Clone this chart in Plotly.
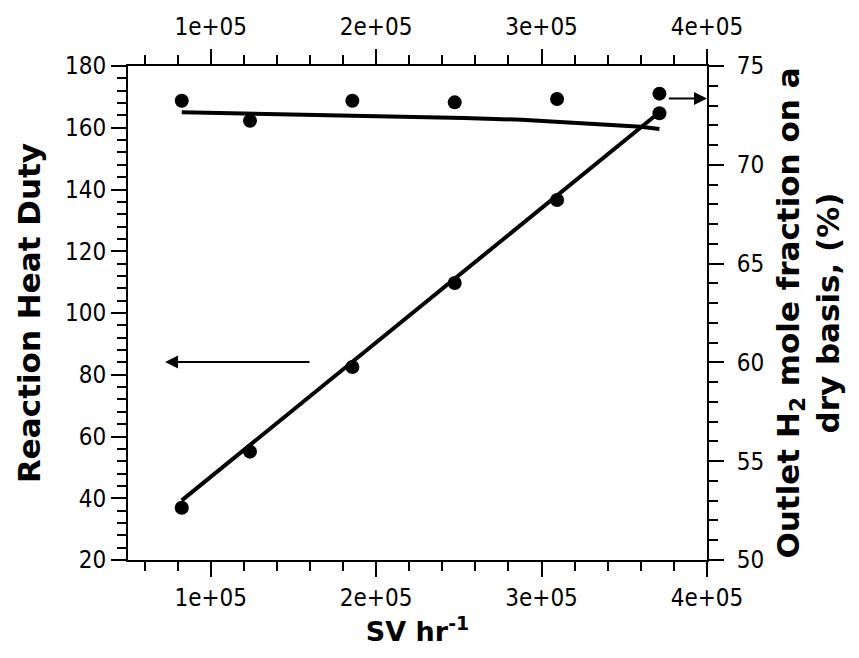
import plotly.graph_objects as go

# ---- data ----
sv = [82500, 123750, 185625, 247500, 309375, 371250]
heat_duty = [36.9, 55.1, 82.5, 109.7, 136.6, 164.7]
h2_frac = [73.24, 72.23, 73.24, 73.16, 73.33, 73.6]

heat_fit_x = [82500, 371250]
heat_fit_y = [39.3, 165.0]

h2_fit_x = [82500, 160000, 216000, 253000, 288000, 326000, 341000, 360000, 371250]
h2_fit_y = [72.66, 72.55, 72.45, 72.37, 72.28, 72.12, 72.02, 71.93, 71.81]

x_ticks = [100000, 200000, 300000, 400000]
x_ticklabels = ["1e+05", "2e+05", "3e+05", "4e+05"]

TICKFONT = "DejaVu Sans Condensed, DejaVu Sans, sans-serif"
TITLEFONT = "DejaVu Sans, sans-serif"
BLACK = "black"

fig = go.Figure()

fig.add_trace(go.Scatter(x=heat_fit_x, y=heat_fit_y, mode="lines",
                         line=dict(color=BLACK, width=4), xaxis="x", yaxis="y",
                         showlegend=False))
fig.add_trace(go.Scatter(x=sv, y=heat_duty, mode="markers",
                         marker=dict(color=BLACK, size=14), xaxis="x", yaxis="y",
                         showlegend=False))
fig.add_trace(go.Scatter(x=h2_fit_x, y=h2_fit_y, mode="lines",
                         line=dict(color=BLACK, width=4), xaxis="x", yaxis="y2",
                         showlegend=False))
fig.add_trace(go.Scatter(x=sv, y=h2_frac, mode="markers",
                         marker=dict(color=BLACK, size=14), xaxis="x", yaxis="y2",
                         showlegend=False))
# dummy trace to activate top axis
fig.add_trace(go.Scatter(x=[None], y=[None], xaxis="x2", yaxis="y", showlegend=False))

tickfont = dict(family=TICKFONT, size=24, color=BLACK)
titlefont = dict(family=TITLEFONT, size=31, color=BLACK, weight="bold")

common_x = dict(range=[50000, 400000], tickvals=x_ticks, ticktext=x_ticklabels,
                ticks="outside", ticklen=15, tickwidth=2, tickcolor=BLACK,
                showline=True, linecolor=BLACK, linewidth=2, showgrid=False,
                zeroline=False, tickfont=tickfont,
                minor=dict(dtick=20000, tick0=0, ticks="outside", ticklen=9,
                           tickwidth=2, tickcolor=BLACK, showgrid=False))

fig.update_layout(
    width=859, height=658,
    margin=dict(l=128, r=152, t=66, b=98),
    paper_bgcolor="white", plot_bgcolor="white",
    xaxis=dict(**common_x, side="bottom",
               title=dict(text="SV hr<sup>-1</sup>",
                          font=dict(family=TITLEFONT, size=27, color=BLACK, weight="bold"),
                          standoff=6)),
    xaxis2=dict(**common_x, side="top", overlaying="x", matches="x",
                ticklabelstandoff=4),
    yaxis=dict(range=[20, 180], dtick=20, tick0=20, ticks="outside", ticklen=15,
               tickwidth=2, tickcolor=BLACK, showline=True, linecolor=BLACK,
               linewidth=2, showgrid=False, zeroline=False, tickfont=tickfont,
               minor=dict(dtick=4, ticks="outside", ticklen=9, tickwidth=2,
                          tickcolor=BLACK, showgrid=False),
               title=dict(text="Reaction Heat Duty", font=titlefont, standoff=15)),
    yaxis2=dict(range=[50, 75], dtick=5, tick0=50, ticks="outside", ticklen=15,
                tickwidth=2, tickcolor=BLACK, showline=True, linecolor=BLACK,
                linewidth=2, showgrid=False, zeroline=False, tickfont=tickfont,
                side="right", overlaying="y", ticklabelstandoff=8,
                minor=dict(dtick=1, ticks="outside", ticklen=9, tickwidth=2,
                           tickcolor=BLACK, showgrid=False),
                title=dict(text="Outlet H<sub>2</sub> mole fraction on a<br>dry basis, (%)",
                           font=titlefont, standoff=14)),
    annotations=[
        dict(x=72400, y=84.1, ax=160600, ay=84.1, xref="x", yref="y",
             axref="x", ayref="y", showarrow=True, arrowhead=2, arrowsize=1.3,
             arrowwidth=2, arrowcolor=BLACK, text=""),
        dict(x=400000, y=169.5, ax=376000, ay=169.5, xref="x", yref="y",
             axref="x", ayref="y", showarrow=True, arrowhead=2, arrowsize=1.3,
             arrowwidth=2, arrowcolor=BLACK, text=""),
    ],
)

fig.write_html("out.html")
